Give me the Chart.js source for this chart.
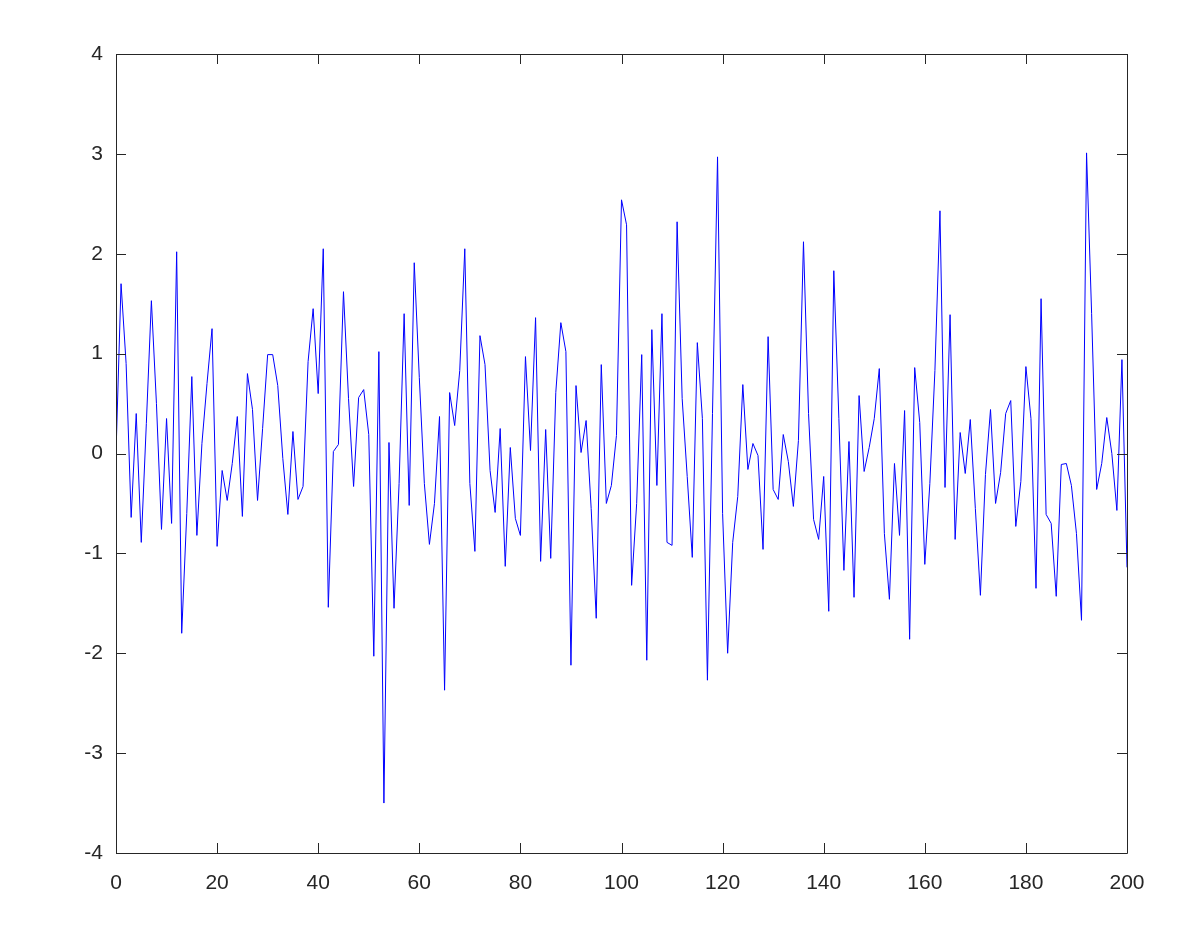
<!DOCTYPE html>
<html>
<head>
<meta charset="utf-8">
<script src="https://cdn.jsdelivr.net/npm/chart.js@4.4.0/dist/chart.umd.min.js"></script>
<style>
  html, body { margin: 0; padding: 0; background: #fff; }
  #wrap { width: 1190px; height: 936px; }
</style>
</head>
<body>
<div id="wrap"><canvas id="lineChart" width="1190" height="936"></canvas></div>
<script>
// values, index 0..200
const values = [
  0, 1.70, 0.90, -0.64, 0.40, -0.89, 0.30, 1.53, 0.50, -0.76,
  0.35, -0.70, 2.02, -1.80, -0.60, 0.77, -0.82, 0.10, 0.70, 1.25,
  -0.93, -0.17, -0.47, -0.10, 0.37, -0.63, 0.80, 0.44, -0.47, 0.25,
  0.99, 0.99, 0.68, -0.05, -0.61, 0.22, -0.46, -0.33, 0.92, 1.45,
  0.60, 2.05, -1.54, 0.02, 0.09, 1.62, 0.55, -0.33, 0.56, 0.64,
  0.19, -2.03, 1.02, -3.50, 0.11, -1.55, -0.30, 1.40, -0.52, 1.91,
  0.76, -0.30, -0.91, -0.50, 0.37, -2.37, 0.61, 0.28, 0.83, 2.05,
  -0.30, -0.98, 1.18, 0.89, -0.17, -0.59, 0.25, -1.13, 0.06, -0.65,
  -0.82, 0.97, 0.03, 1.36, -1.08, 0.24, -1.05, 0.61, 1.31, 1.02,
  -2.12, 0.68, 0.01, 0.33, -0.55, -1.65, 0.89, -0.50, -0.32, 0.18,
  2.54, 2.29, -1.32, -0.50, 0.99, -2.07, 1.24, -0.32, 1.40, -0.89,
  -0.92, 2.32, 0.55, -0.23, -1.04, 1.11, 0.35, -2.27, 0.40, 2.97,
  -0.60, -2.00, -0.89, -0.43, 0.69, -0.16, 0.10, -0.02, -0.96, 1.17,
  -0.36, -0.46, 0.19, -0.08, -0.53, 0.13, 2.12, 0.40, -0.66, -0.86,
  -0.23, -1.58, 1.83, 0.35, -1.17, 0.12, -1.44, 0.58, -0.18, 0.06,
  0.35, 0.85, -0.80, -1.46, -0.10, -0.82, 0.43, -1.86, 0.86, 0.31,
  -1.11, -0.30, 0.83, 2.43, -0.34, 1.39, -0.86, 0.21, -0.20, 0.34,
  -0.55, -1.42, -0.21, 0.44, -0.50, -0.19, 0.40, 0.53, -0.73, -0.28,
  0.87, 0.35, -1.35, 1.55, -0.61, -0.70, -1.43, -0.11, -0.10, -0.32,
  -0.80, -1.67, 3.01, 1.40, -0.36, -0.10, 0.36, 0.00, -0.57, 0.94,
  -1.14
];
const xTicks = [0, 20, 40, 60, 80, 100, 120, 140, 160, 180, 200];
const yTicks = [-4, -3, -2, -1, 0, 1, 2, 3, 4];

const axisColor = "#262626";
const points = values.map((v, i) => ({ x: i, y: v }));

// MATLAB style box with inward ticks on all four sides
const boxTicks = {
  id: "boxTicks",
  afterDraw(chart) {
    const ctx = chart.ctx;
    const a = chart.chartArea;
    const xs = chart.scales.x, ys = chart.scales.y;
    const len = 10;
    ctx.save();
    ctx.strokeStyle = axisColor;
    ctx.lineWidth = 1;
    ctx.beginPath();
    ctx.rect(Math.round(a.left) + 0.5, Math.round(a.top) + 0.5,
             Math.round(a.right - a.left), Math.round(a.bottom - a.top));
    xTicks.forEach(t => {
      const px = Math.round(xs.getPixelForValue(t)) + 0.5;
      ctx.moveTo(px, a.bottom); ctx.lineTo(px, a.bottom - len);
      ctx.moveTo(px, a.top); ctx.lineTo(px, a.top + len);
    });
    yTicks.forEach(t => {
      const py = Math.round(ys.getPixelForValue(t)) + 0.5;
      ctx.moveTo(a.left, py); ctx.lineTo(a.left + len, py);
      ctx.moveTo(a.right, py); ctx.lineTo(a.right - len, py);
    });
    ctx.stroke();
    ctx.restore();
  }
};

const CHART = document.getElementById("lineChart");
let lineChart = new Chart(CHART, {
  type: "line",
  data: {
    datasets: [{
      data: points,
      borderColor: "#0000ff",
      borderWidth: 1,
      pointRadius: 0,
      tension: 0,
      fill: false
    }]
  },
  options: {
    responsive: false,
    animation: false,
    events: [],
    layout: { padding: { left: 0, top: 54, right: 63, bottom: 0 } },
    plugins: { legend: { display: false }, tooltip: { enabled: false } },
    scales: {
      x: {
        type: "linear",
        min: 0, max: 200,
        afterFit(s) { s.height = 83; },
        afterBuildTicks(s) { s.ticks = xTicks.map(v => ({ value: v })); },
        grid: { display: false, drawTicks: false },
        border: { display: false },
        ticks: {
          padding: 18,
          color: axisColor,
          font: { family: "'Liberation Sans', Arial, sans-serif", size: 21 },
          maxRotation: 0
        }
      },
      y: {
        min: -4, max: 4,
        afterFit(s) { s.width = 116; },
        afterBuildTicks(s) { s.ticks = yTicks.map(v => ({ value: v })); },
        grid: { display: false, drawTicks: false },
        border: { display: false },
        ticks: {
          padding: 13,
          color: axisColor,
          font: { family: "'Liberation Sans', Arial, sans-serif", size: 21 }
        }
      }
    }
  },
  plugins: [boxTicks]
});
</script>
</body>
</html>
